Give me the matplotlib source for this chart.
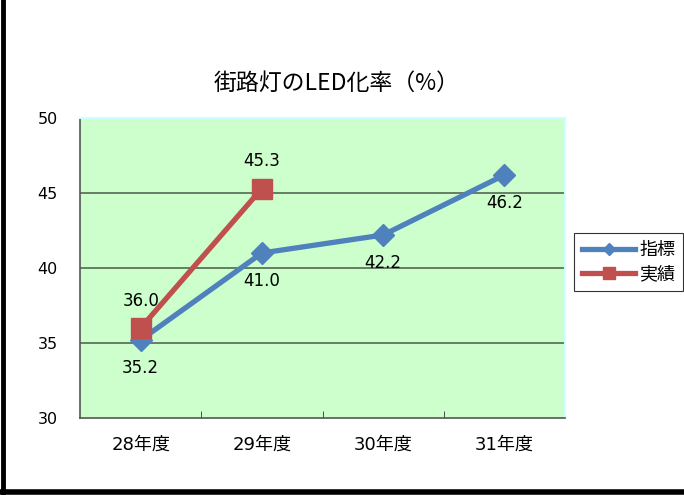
import matplotlib.pyplot as plt
from matplotlib.lines import Line2D

plt.rcParams['font.family'] = ['DejaVu Sans', 'Noto Sans CJK JP']

# data
years = ['28年度', '29年度', '30年度', '31年度']
target = [35.2, 41.0, 42.2, 46.2]
actual = [36.0, 45.3]
yticks = [30, 35, 40, 45, 50]

blue = '#4F81BD'
red = '#C0504D'

fig = plt.figure(figsize=(6.84, 4.95), dpi=100)
ax = fig.add_axes([0.117, 0.1556, 0.709, 0.606])
ax.set_facecolor('#CCFFCC')

x = list(range(len(years)))
ax.plot(x, target, color=blue, lw=3.8, marker='D', ms=11, label='指標', zorder=3)
ax.plot(x[:len(actual)], actual, color=red, lw=3.8, marker='s', ms=14, label='実績', zorder=4)

# labels
for xi, v in zip(x, target):
    ax.annotate(f'{v:.1f}', (xi, v), xytext=(0, -14), textcoords='offset points',
                ha='center', va='top', fontsize=12)
for xi, v in zip(x, actual):
    ax.annotate(f'{v:.1f}', (xi, v), xytext=(0, 13), textcoords='offset points',
                ha='center', va='bottom', fontsize=12)

ax.set_xlim(-0.5, len(years) - 0.5)
ax.set_ylim(30, 50)
ax.set_yticks(yticks)
ax.set_yticklabels([str(t) for t in yticks], fontsize=11.5)
ax.tick_params(axis='y', length=0, pad=16)
for t in yticks[1:-1]:
    ax.axhline(t, color='#556655', lw=1.2, zorder=1)

ax.set_xticks(x)
ax.set_xticklabels(years, fontsize=13)
ax.tick_params(axis='x', which='major', length=0, pad=13)
ax.set_xticks([0.5, 1.5, 2.5], minor=True)
ax.tick_params(axis='x', which='minor', length=5, direction='in', color='#333333')

for s in ['left', 'bottom']:
    ax.spines[s].set_color('#555555')
    ax.spines[s].set_linewidth(1.2)
for s in ['top', 'right']:
    ax.spines[s].set_color('#CCFFFF')
    ax.spines[s].set_linewidth(1.5)

fig.text(0.492, 0.832, '街路灯のLED化率（%）', ha='center', va='center', fontsize=16.5,
         family=['Noto Sans CJK JP', 'DejaVu Sans'])

leg = ax.legend(loc='center left', bbox_to_anchor=(1.019, 0.52),
                frameon=True, fancybox=False, edgecolor='black', borderpad=0.45,
                handlelength=2.9, handletextpad=0.25, labelspacing=0.35, borderaxespad=0,
                markerscale=0.6, prop={'family': ['Noto Sans CJK JP'], 'size': 13})
leg.get_frame().set_linewidth(0.8)

# outer border remnants
fig.add_artist(Line2D([0.004, 0.004], [0, 1], color='black', lw=3.5, transform=fig.transFigure))
fig.add_artist(Line2D([0, 1], [0.006, 0.006], color='black', lw=4, transform=fig.transFigure))

fig.savefig('out.png', dpi=100)
